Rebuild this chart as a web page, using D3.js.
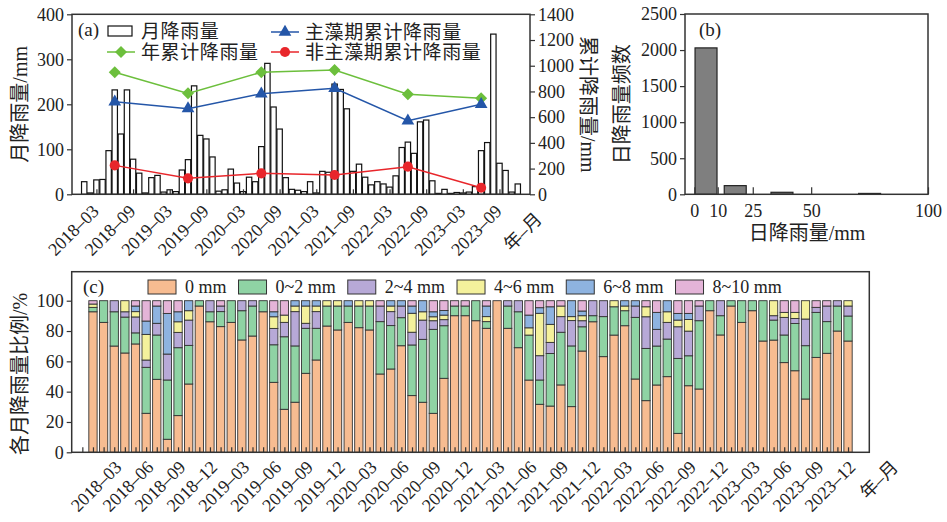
<!DOCTYPE html>
<html>
<head>
<meta charset="utf-8">
<script src="https://cdn.jsdelivr.net/npm/d3@7"></script>
<style>
  body { margin: 0; background: #fff; }
  text { font-family: "Liberation Serif", "Noto Sans CJK SC", serif; fill: #222; }
</style>
</head>
<body>
<svg width="947" height="522"></svg>
<script>
// ---------- data ----------
// months 2018-01 .. 2023-12
const months = d3.timeMonths(new Date(2018, 0, 1), new Date(2024, 0, 1)).map(d3.timeFormat("%Y–%m"));

// (a) monthly rainfall, mm
const monthlyRain = [
  28, 3, 32, 33, 97, 232, 134, 232, 78, 47, 3, 37,
  42, 5, 10, 6, 54, 77, 241, 131, 123, 83, 7, 10,
  56, 25, 6, 38, 28, 106, 291, 194, 145, 37, 11, 9,
  6, 28, 3, 51, 49, 245, 233, 190, 51, 67, 38, 21,
  28, 23, 16, 41, 104, 116, 91, 161, 165, 30, 2, 11,
  2, 4, 3, 5, 17, 97, 115, 356, 69, 53, 5, 23
];

// (a) cumulative rainfall per year, plotted at June
const years = ["2018", "2019", "2020", "2021", "2022", "2023"];
const markMonth = "06";
const annualRain = [949, 785, 949, 967, 778, 747];
const algaeRain = [720, 666, 782, 824, 572, 700];
const nonAlgaeRain = [225, 124, 163, 150, 215, 51];

// (b) daily rainfall histogram
const binEdges = [0, 10, 25, 50, 100];
const binCounts = [2030, 120, 28, 12];
const binTicks = [0, 10, 25, 50, 100];

// (c) share of days per rainfall class in each month, %
const classes = ["0 mm", "0~2 mm", "2~4 mm", "4~6 mm", "6~8 mm", "8~10 mm"];
const share0 = [
  92.7, 85.7, 70.1, 65.5, 71.4, 25.7, 48.1, 8.6, 24.2, 45.1, 96.5, 86.2,
  82.9, 85.7, 74.1, 76.7, 92.7, 46.2, 28.4, 33, 52.1, 60.9, 83.3, 80.7,
  85.7, 82.2, 80.7, 51.6, 54.9, 70.3, 37.4, 33, 25.7, 48.8, 90.1, 90.1,
  86.8, 81.8, 100, 81.8, 69, 47.7, 31.6, 30.5, 44.4, 30.1, 66.8, 86.2,
  63.1, 77.4, 83.5, 48.4, 34.1, 44.4, 49.9, 12.5, 44, 41.8, 93.4, 77.4,
  96.5, 85.7, 93.4, 73.4, 74.1, 59.1, 53.8, 35.2, 62.6, 65.3, 80, 73.4
];
const share0to2 = [
  2.9, 14.3, 22.6, 23.7, 7.3, 30.3, 29.2, 39.1, 44.8, 25.5, 3.5, 6.6,
  9.9, 14.3, 19.3, 19.8, 7.3, 24.8, 47.9, 37.1, 29.7, 20.9, 13.2, 15.8,
  10.8, 14.3, 15.8, 34.5, 28.6, 18.5, 33.4, 41.5, 55.4, 34.7, 6.4, 6.4,
  13.2, 4.4, 0, 14.7, 23.7, 29.7, 16, 34.7, 34.7, 40, 16, 4,
  26.4, 18.7, 9.9, 40.7, 34.5, 25.7, 24.8, 49.5, 19.8, 45.1, 6.6, 12.7,
  3.5, 14.3, 6.6, 26.6, 13.2, 18.2, 31.2, 35.2, 29.7, 20.9, 16.5, 16.5
];
const share2to4 = [
  0, 0, 7.3, 3.5, 10.5, 4.8, 7.7, 17.1, 10.1, 16.7, 0, 7.3,
  3.7, 0, 6.6, 3.5, 0, 10.8, 9.5, 22.6, 3.3, 11, 0, 0,
  0, 0, 0, 10.3, 9.2, 7.7, 8.4, 12.7, 5.7, 4, 0, 0,
  0, 0, 0, 3.5, 7.3, 0, 16, 7.3, 10.3, 16.7, 4, 9.9,
  10.5, 0, 0, 7.5, 20.9, 11, 11, 20.9, 16.3, 9.7, 0, 9.9,
  0, 0, 0, 0, 2.9, 11.6, 3.3, 17.6, 3.3, 10.3, 3.5, 6.6
];
const share4to6 = [
  2.2, 0, 0, 7.3, 3.5, 16.9, 0, 0, 7, 6.2, 0, 0,
  0, 0, 0, 0, 0, 7.7, 4.8, 3.7, 11.4, 3.7, 3.5, 3.5,
  0, 3.5, 3.5, 0, 3.7, 0, 12.5, 5.5, 2.6, 3, 0, 0,
  0, 3.3, 0, 0, 0, 4.8, 27.9, 11.9, 7, 2.6, 3.3, 0,
  0, 4, 3.1, 0, 6.6, 0, 7, 4.4, 7.7, 0, 0, 0,
  0, 0, 0, 0, 9.9, 3.3, 4, 12.1, 0, 0, 0, 3.5
];
const share6to8 = [
  0, 0, 0, 0, 3.7, 8.8, 11.4, 26.8, 6.6, 6.6, 0, 0,
  0, 0, 0, 0, 0, 3.3, 0, 3.5, 3.5, 3.5, 0, 0,
  3.5, 0, 0, 0, 3.5, 3.5, 4.8, 7.3, 3.3, 3, 0, 0,
  0, 7, 0, 0, 0, 8.4, 3.7, 11.6, 0, 10.5, 3.1, 0,
  0, 0, 3.5, 3.5, 0, 11.2, 7.3, 4.4, 4, 0, 0, 0,
  0, 0, 0, 0, 0, 0, 0, 0, 0, 0, 0, 0
];
const share8to10 = [
  2.2, 0, 0, 0, 3.5, 13.4, 3.5, 8.4, 7.3, 0, 0, 0,
  3.5, 0, 0, 0, 0, 7.3, 9.5, 0, 0, 0, 0, 0,
  0, 0, 0, 3.5, 0, 0, 3.5, 0, 7.3, 6.5, 3.5, 3.5,
  0, 3.5, 0, 0, 0, 9.5, 4.6, 4, 3.5, 0, 6.8, 0,
  0, 0, 0, 0, 4, 7.7, 0, 8.4, 8.4, 3.5, 0, 0,
  0, 0, 0, 0, 0, 7.7, 7.7, 0, 4.4, 3.5, 0, 0
];
const classColors = ["#f7bc91", "#8fd3a4", "#b7a9d7", "#f4f19c", "#8eb3e0", "#e4b4d8"];

// ---------- setup ----------
const svg = d3.select("svg");
const ink = "#333";
const numFont = 18;
const titleFont = 20;
const fmt = d3.format("d");

function styleAxis(g) {
  g.attr("font-size", numFont);
  g.select(".domain").remove();
  g.selectAll(".tick line").attr("stroke", ink).attr("stroke-width", 1.2);
  g.selectAll(".tick text").attr("fill", "#222");
}

function rotateLabels(g, dx, dy) {
  g.selectAll(".tick text")
    .attr("x", 0).attr("y", 0).attr("dy", 0)
    .attr("text-anchor", "end")
    .attr("transform", `translate(${dx},${dy}) rotate(-45)`);
}

function frame(p) {
  svg.append("rect")
    .attr("x", p.left).attr("y", p.top)
    .attr("width", p.right - p.left).attr("height", p.bottom - p.top)
    .attr("fill", "none").attr("stroke", ink).attr("stroke-width", 1.5);
}

// ---------- panel (a) ----------
const pa = { left: 72, right: 530, top: 14.3, bottom: 194.3 };
const xA = d3.scaleLinear().domain([-2, 73]).range([pa.left, pa.right]);
const yA = d3.scaleLinear().domain([0, 400]).range([pa.bottom, pa.top]);
const yA2 = d3.scaleLinear().domain([0, 1400]).range([pa.bottom, pa.top]);
const bwA = (xA(1) - xA(0)) * 0.88;

svg.append("g")
  .selectAll("rect")
  .data(monthlyRain)
  .join("rect")
  .attr("x", (d, i) => xA(i) - bwA / 2)
  .attr("y", (d) => yA(d))
  .attr("width", bwA)
  .attr("height", (d) => yA(0) - yA(d))
  .attr("fill", "#fff")
  .attr("stroke", "#111")
  .attr("stroke-width", 1.2);

svg.append("g")
  .attr("transform", `translate(${pa.left},0)`)
  .call(d3.axisLeft(yA).tickValues(d3.range(0, 401, 100)).tickSize(5).tickPadding(3).tickFormat(fmt))
  .call(styleAxis);

svg.append("g")
  .attr("transform", `translate(${pa.right},0)`)
  .call(d3.axisRight(yA2).tickValues(d3.range(0, 1401, 200)).tickSize(5).tickPadding(3).tickFormat(fmt))
  .call(styleAxis);

const tickIdxA = months.map((m, i) => i).filter((i) => /–(03|09)$/.test(months[i]));
svg.append("g")
  .attr("transform", `translate(0,${pa.bottom})`)
  .call(d3.axisBottom(xA).tickValues(tickIdxA).tickSize(-5).tickFormat((i) => months[i]))
  .call(styleAxis)
  .call((g) => rotateLabels(g, 3, 18));

// cumulative lines
const markIdx = years.map((y) => months.indexOf(`${y}–${markMonth}`));
const lineGen = d3.line().x((d, i) => xA(markIdx[i])).y((d) => yA2(d));
const diamond = "M0,-6L6,0L0,6L-6,0Z";
const series = [
  { values: annualRain, color: "#6cbf3c", symbol: diamond },
  { values: algaeRain, color: "#2456a8", symbol: d3.symbol(d3.symbolTriangle, 70)() },
  { values: nonAlgaeRain, color: "#e8262b", symbol: d3.symbol(d3.symbolCircle, 80)() }
];
series.forEach((s) => {
  svg.append("path")
    .attr("d", lineGen(s.values))
    .attr("fill", "none")
    .attr("stroke", s.color)
    .attr("stroke-width", 1.5);
  svg.append("g")
    .selectAll("path")
    .data(s.values)
    .join("path")
    .attr("d", s.symbol)
    .attr("transform", (d, i) => `translate(${xA(markIdx[i])},${yA2(d)})`)
    .attr("fill", s.color);
});

frame(pa);

// legend (a)
svg.append("text").attr("x", 78).attr("y", 36).attr("font-size", 19).text("(a)");
const legA = [
  { label: "月降雨量", x: 107, y: 31, kind: "bar" },
  { label: "主藻期累计降雨量", x: 271, y: 32, kind: 1 },
  { label: "年累计降雨量", x: 107, y: 52, kind: 0 },
  { label: "非主藻期累计降雨量", x: 271, y: 52, kind: 2 }
];
legA.forEach((l) => {
  if (l.kind === "bar") {
    svg.append("rect").attr("x", l.x + 1).attr("y", l.y - 5).attr("width", 24).attr("height", 10)
      .attr("fill", "#fff").attr("stroke", "#111").attr("stroke-width", 1.2);
  } else {
    const s = series[l.kind];
    svg.append("line").attr("x1", l.x).attr("x2", l.x + 28).attr("y1", l.y).attr("y2", l.y)
      .attr("stroke", s.color).attr("stroke-width", 1.5);
    svg.append("path").attr("d", s.symbol).attr("fill", s.color)
      .attr("transform", `translate(${l.x + 14},${l.y})`);
  }
  svg.append("text")
    .attr("x", l.x + 34).attr("y", l.y + 7)
    .attr("font-size", 19).attr("letter-spacing", 0.6)
    .text(l.label);
});

svg.append("text")
  .attr("transform", `translate(20,${(pa.top + pa.bottom) / 2}) rotate(-90)`)
  .attr("text-anchor", "middle").attr("dy", "0.35em").attr("font-size", titleFont)
  .text("月降雨量/mm");
svg.append("text")
  .attr("transform", `translate(588,${(pa.top + pa.bottom) / 2}) rotate(90)`)
  .attr("text-anchor", "middle").attr("dy", "0.35em").attr("font-size", titleFont)
  .text("累计降雨量/mm");
svg.append("text")
  .attr("transform", `translate(${pa.right + 13},${pa.bottom + 26}) rotate(-45)`)
  .attr("text-anchor", "end").attr("font-size", 18)
  .text("年–月");

// ---------- panel (b) ----------
const pb = { left: 685, right: 928, top: 14, bottom: 194.3 };
const xB = d3.scaleLinear().domain([-4, 100]).range([pb.left, pb.right]);
const yB = d3.scaleLinear().domain([0, 2500]).range([pb.bottom, pb.top]);
const bwB = xB(9.4) - xB(0);

svg.append("g")
  .selectAll("rect")
  .data(binCounts)
  .join("rect")
  .attr("x", (d, i) => xB((binEdges[i] + binEdges[i + 1]) / 2) - bwB / 2)
  .attr("y", (d) => yB(d))
  .attr("width", bwB)
  .attr("height", (d) => yB(0) - yB(d))
  .attr("fill", "#7f7f7f")
  .attr("stroke", "#222")
  .attr("stroke-width", 1.2);

svg.append("g")
  .attr("transform", `translate(${pb.left},0)`)
  .call(d3.axisLeft(yB).tickValues(d3.range(0, 2501, 500)).tickSize(5).tickPadding(3).tickFormat(fmt))
  .call(styleAxis);

svg.append("g")
  .attr("transform", `translate(0,${pb.bottom})`)
  .call(d3.axisBottom(xB).tickValues(binTicks).tickSize(-7).tickPadding(10).tickFormat(fmt))
  .call(styleAxis);

frame(pb);

svg.append("text").attr("x", 699).attr("y", 36).attr("font-size", 19).text("(b)");
svg.append("text")
  .attr("transform", `translate(622,${(pb.top + pb.bottom) / 2}) rotate(-90)`)
  .attr("text-anchor", "middle").attr("dy", "0.35em").attr("font-size", titleFont)
  .text("日降雨量频数");
svg.append("text")
  .attr("x", 807).attr("y", 240)
  .attr("text-anchor", "middle").attr("font-size", titleFont)
  .text("日降雨量/mm");

// ---------- panel (c) ----------
const pc = { left: 71.7, right: 869.3, top: 271.7, bottom: 452.3 };
const xC = d3.scaleLinear().domain([-2, 73]).range([pc.left, pc.right]);
const yC = d3.scaleLinear().domain([0, 1]).range([pc.bottom, 300.7]);
const bwC = (xC(1) - xC(0)) * 0.78;

const shareSeries = [share0, share0to2, share2to4, share4to6, share6to8, share8to10];
const table = months.map((m, i) => {
  const row = { idx: i };
  classes.forEach((c, k) => (row[c] = shareSeries[k][i]));
  return row;
});
const stacked = d3.stack().keys(classes).offset(d3.stackOffsetExpand)(table);
const color = d3.scaleOrdinal().domain(classes).range(classColors);

svg.append("g")
  .selectAll("g")
  .data(stacked)
  .join("g")
  .attr("fill", (d) => color(d.key))
  .selectAll("rect")
  .data((d) => d.filter((s) => s[1] - s[0] > 0))
  .join("rect")
  .attr("x", (d) => xC(d.data.idx) - bwC / 2)
  .attr("y", (d) => yC(d[1]))
  .attr("width", bwC)
  .attr("height", (d) => yC(d[0]) - yC(d[1]))
  .attr("stroke", "#333")
  .attr("stroke-width", 0.9);

svg.append("g")
  .attr("transform", `translate(${pc.left},0)`)
  .call(d3.axisLeft(yC).tickValues(d3.range(0, 1.01, 0.2)).tickSize(5).tickPadding(3)
    .tickFormat((d) => Math.round(d * 100)))
  .call(styleAxis);

svg.append("g")
  .attr("transform", `translate(0,${pc.bottom})`)
  .call(d3.axisBottom(xC).tickValues(d3.range(-1, 72)).tickSize(-5)
    .tickFormat((i) => (i >= 0 && /–(03|06|09|12)$/.test(months[i]) ? months[i] : "")))
  .call(styleAxis)
  .call((g) => rotateLabels(g, 8, 16));

frame(pc);

svg.append("text").attr("x", 83).attr("y", 293).attr("font-size", 19).text("(c)");

// legend (c)
let lx = 148;
classes.forEach((c, k) => {
  svg.append("rect").attr("x", lx).attr("y", 280).attr("width", 28).attr("height", 14)
    .attr("fill", classColors[k]).attr("stroke", "#333").attr("stroke-width", 1);
  const t = svg.append("text").attr("x", lx + 37).attr("y", 293).attr("font-size", 18).text(c);
  lx += 37 + t.node().getComputedTextLength() + 12;
});

svg.append("text")
  .attr("transform", `translate(20,${(pc.top + pc.bottom) / 2 + 12}) rotate(-90)`)
  .attr("text-anchor", "middle").attr("dy", "0.35em").attr("font-size", titleFont)
  .text("各月降雨量比例/%");
svg.append("text")
  .attr("transform", `translate(${pc.right + 30},${pc.bottom + 16}) rotate(-45)`)
  .attr("text-anchor", "end").attr("font-size", 18)
  .text("年–月");
</script>
</body>
</html>
